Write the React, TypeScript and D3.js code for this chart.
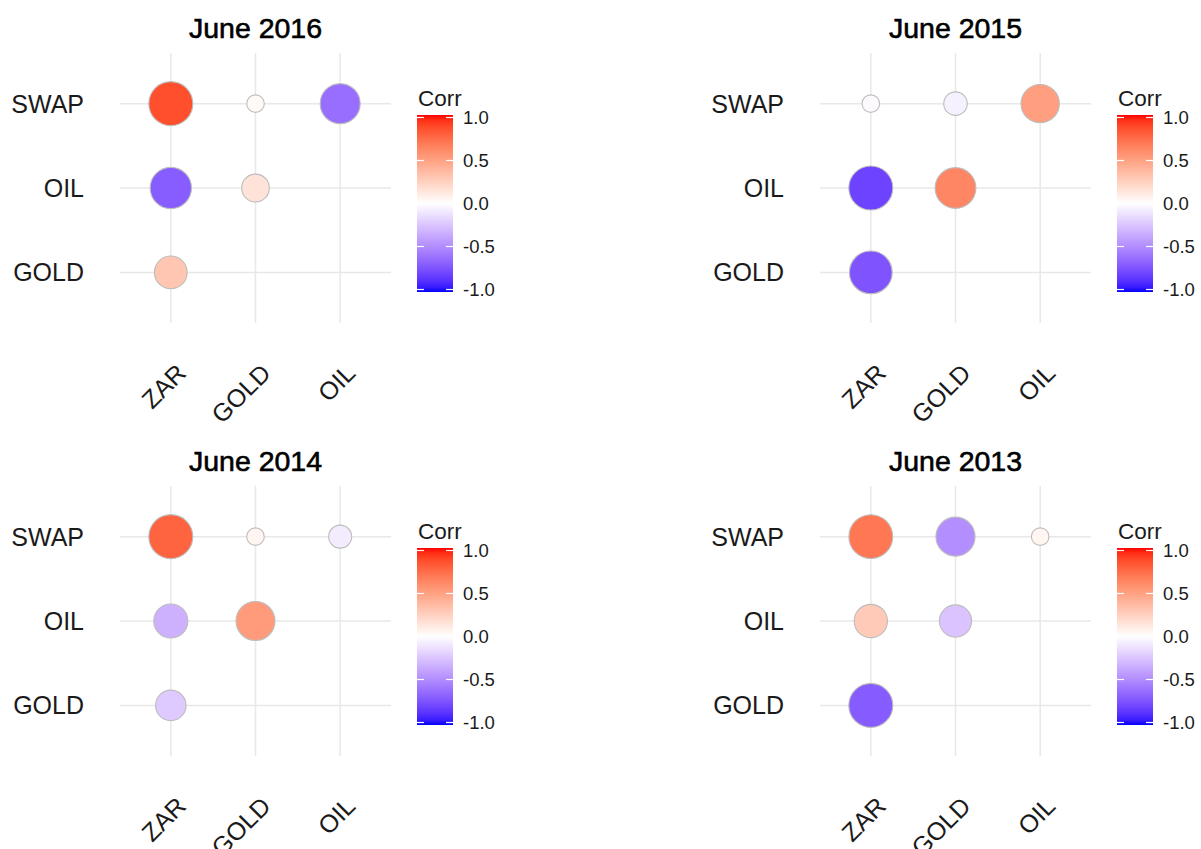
import { useEffect, useRef } from "react";
import * as d3 from "d3";

// variables of the lower-triangle correlation matrix
const rowVars = ["SWAP", "OIL", "GOLD"];
const colVars = ["ZAR", "GOLD", "OIL"];

// which cell each correlation belongs to
const cellRow = ["SWAP", "SWAP", "SWAP", "OIL", "OIL", "GOLD"];
const cellCol = ["ZAR", "GOLD", "OIL", "ZAR", "GOLD", "ZAR"];

// correlations, same order as cellRow / cellCol
const corr2016 = [0.85, 0.03, -0.62, -0.69, 0.15, 0.3];
const corr2015 = [-0.02, -0.06, 0.5, -0.8, 0.62, -0.73];
const corr2014 = [0.77, 0.05, -0.08, -0.33, 0.52, -0.22];
const corr2013 = [0.69, -0.48, 0.05, 0.28, -0.25, -0.7];

const panelTitles = ["June 2016", "June 2015", "June 2014", "June 2013"];
const panelValues = [corr2016, corr2015, corr2014, corr2013];

const legendTicks = [1, 0.5, 0, -0.5, -1];

const FONT = "'Liberation Sans', Arial, sans-serif";

const App = () => {
  const svgRef = useRef(null);

  useEffect(() => {
    if (!svgRef.current) return;
    dibujar();
  }, []);

  const dibujar = () => {
    const svg = d3.select(svgRef.current);
    svg.selectAll("*").remove();

    const fillScale = d3
      .scaleLinear<string>()
      .domain([-1, 0, 1])
      .range(["blue", "white", "red"])
      .interpolate(d3.interpolateLab);

    // vertical gradient for the colour bar
    const defs = svg.append("defs");
    const grad = defs
      .append("linearGradient")
      .attr("id", "corrGrad")
      .attr("x1", 0)
      .attr("y1", 0)
      .attr("x2", 0)
      .attr("y2", 1);
    d3.range(0, 41).forEach((i) => {
      const t = i / 40;
      grad
        .append("stop")
        .attr("offset", t)
        .attr("stop-color", fillScale(1 - 2 * t));
    });

    const panelW = 700;
    const panelH = 433;

    panelTitles.forEach((title, p) => {
      const vals = panelValues[p];
      const g = svg
        .append("g")
        .attr("transform", `translate(${(p % 2) * panelW},${Math.floor(p / 2) * panelH})`);

      // discrete scales with ggplot's 0.6 expansion
      const x = d3.scalePoint().domain(colVars).range([120, 391]).padding(0.6);
      const y = d3.scalePoint().domain(rowVars).range([53, 323]).padding(0.6);

      // grid
      g.selectAll(".vgrid")
        .data(colVars)
        .enter()
        .append("line")
        .attr("x1", (d) => x(d))
        .attr("x2", (d) => x(d))
        .attr("y1", 53)
        .attr("y2", 323)
        .attr("stroke", "#e8e8e8")
        .attr("stroke-width", 1.5);

      g.selectAll(".hgrid")
        .data(rowVars)
        .enter()
        .append("line")
        .attr("x1", 120)
        .attr("x2", 391)
        .attr("y1", (d) => y(d))
        .attr("y2", (d) => y(d))
        .attr("stroke", "#e8e8e8")
        .attr("stroke-width", 1.5);

      // circle size: scale_size(range = c(4, 10)) on |corr|
      const abs = vals.map((v) => Math.abs(v));
      const norm = d3.scaleLinear().domain(d3.extent(abs) as [number, number]).range([0, 1]);
      const rScale = d3.scaleLinear().domain([0, 1]).range([8.8, 22]);

      const celdas = vals.map((v, i) => ({ v, row: cellRow[i], col: cellCol[i] }));

      g.selectAll(".celda")
        .data(celdas)
        .enter()
        .append("circle")
        .attr("cx", (d) => x(d.col))
        .attr("cy", (d) => y(d.row))
        .attr("r", (d) => rScale(Math.sqrt(norm(Math.abs(d.v)))))
        .attr("fill", (d) => fillScale(d.v))
        .attr("stroke", "#bdbdbd")
        .attr("stroke-width", 1.1);

      // y labels
      g.selectAll(".ylab")
        .data(rowVars)
        .enter()
        .append("text")
        .attr("x", 84)
        .attr("y", (d) => y(d))
        .attr("dy", "0.36em")
        .attr("text-anchor", "end")
        .style("font-family", FONT)
        .style("font-size", "25px")
        .style("fill", "#1a1a1a")
        .text((d) => d);

      // x labels, rotated 45°
      g.selectAll(".xlab")
        .data(colVars)
        .enter()
        .append("text")
        .attr("transform", (d) => `translate(${x(d) + 4},${362}) rotate(-45)`)
        .attr("dy", "0.72em")
        .attr("text-anchor", "end")
        .style("font-family", FONT)
        .style("font-size", "25px")
        .style("fill", "#1a1a1a")
        .text((d) => d);

      // title
      g.append("text")
        .attr("x", 255.5)
        .attr("y", 38)
        .attr("text-anchor", "middle")
        .style("font-family", FONT)
        .style("font-size", "28.5px")
        .style("fill", "#000")
        .style("stroke", "#000")
        .style("stroke-width", 0.6)
        .text(title);

      // legend
      const barX = 417;
      const barW = 36;
      const barTop = 115;
      const barBot = 292;
      const ly = d3.scaleLinear().domain([-1, 1]).range([barBot - 2.5, barTop + 2.5]);

      g.append("text")
        .attr("x", 418)
        .attr("y", 106)
        .style("font-family", FONT)
        .style("font-size", "22.5px")
        .style("fill", "#1a1a1a")
        .text("Corr");

      g.append("rect")
        .attr("x", barX)
        .attr("y", barTop)
        .attr("width", barW)
        .attr("height", barBot - barTop)
        .attr("fill", "url(#corrGrad)");

      legendTicks.forEach((t) => {
        [barX, barX + barW - 7].forEach((tx) => {
          g.append("line")
            .attr("x1", tx)
            .attr("x2", tx + 7)
            .attr("y1", ly(t))
            .attr("y2", ly(t))
            .attr("stroke", "white")
            .attr("stroke-width", 1.2);
        });
        g.append("text")
          .attr("x", 463)
          .attr("y", ly(t))
          .attr("dy", "0.36em")
          .style("font-family", FONT)
          .style("font-size", "18.5px")
          .style("fill", "#1a1a1a")
          .text(d3.format(".1f")(t).replace("−", "-"));
      });
    });
  };

  return (
    <svg
      ref={svgRef}
      width={1201}
      height={849}
      style={{ position: "absolute", left: 0, top: 0, background: "white", display: "block" }}
    />
  );
};

export default App;
